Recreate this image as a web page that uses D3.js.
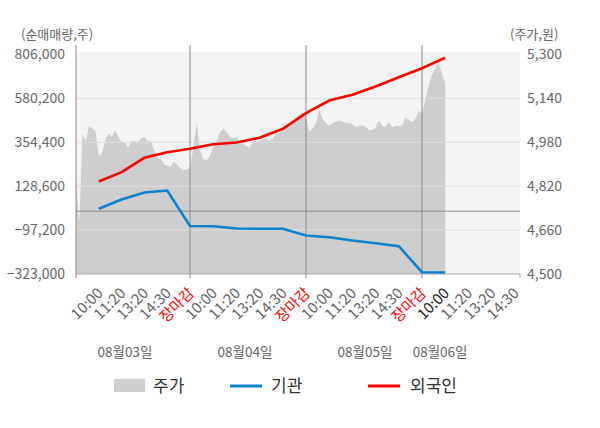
<!DOCTYPE html>
<html>
<head>
<meta charset="utf-8">
<script src="https://cdn.jsdelivr.net/npm/d3@7"></script>
<style>
  body { margin: 0; background: #fff; }
  text { font-family: "Noto Sans CJK KR", "Noto Sans", sans-serif; }
</style>
</head>
<body>
<div id="chart"></div>
<script>
// dates and intraday tick labels
const dates = ['08월03일', '08월04일', '08월05일', '08월06일'];
const timeLabels = ['10:00', '11:20', '13:20', '14:30', '장마감'];
const dateLabelSlots = [2.15, 7.37, 12.54, 15.78];

// price (won), 7 samples per slot, continuous over the days
const priceDay1 = [4845, 4685, 5010, 4985, 5040, 5030, 5020, 4930, 4940, 4990, 5010, 5000, 5025, 5000, 4980,
    4980, 4960, 4985, 4985, 4980, 4995, 5000, 4985, 4985, 4950, 4925, 4920, 4900, 4895, 4890, 4910, 4900, 4885, 4880, 4880];
const priceDay2 = [4885, 4960, 5050, 4950, 4920, 4915, 4930, 4965, 4985, 5015, 5030, 5020, 5000, 4995, 5000,
    4980, 4975, 4965, 4960, 4985, 4985, 4985, 4990, 4995, 4985, 4995, 5010, 5015, 5025, 5035, 5045, 5055, 5070, 5080, 5090];
const priceDay3 = [5070, 5020, 5030, 5050, 5100, 5065, 5050, 5040, 5050, 5055, 5060, 5055, 5050, 5050, 5045,
    5035, 5040, 5040, 5035, 5025, 5025, 5035, 5060, 5040, 5035, 5055, 5035, 5040, 5040, 5040, 5070, 5060, 5055, 5065, 5095];
const priceDay4 = [5085, 5135, 5185, 5225, 5250, 5270, 5230, 5195];

// net buying (shares) at each tick: 10:00, 11:20, 13:20, 14:30, close ...
const foreignNet = [152800, 200600, 274700, 303500, 321000, 344600, 353400, 377500, 423800, 504100,
    569400, 598700, 641400, 689200, 735500, 789000];
const instNet = [12400, 60200, 96200, 106500, -76100, -77100, -89000, -90500, -90500, -125000,
    -133700, -150700, -164600, -180000, -313700, -315300];

const leftTicks = [-323000, -97200, 128600, 354400, 580200, 806000];
const rightTicks = [4500, 4660, 4820, 4980, 5140, 5300];

const width = 600, height = 428;
const plotLeft = 76, plotRight = 520, plotTop = 52, plotBottom = 274;
const samplesPerSlot = 7;

const svg = d3.select("#chart").append("svg")
    .attr("width", width)
    .attr("height", height);

// slots: 5 per day, day 4 has 4
const x = d3.scaleLinear().domain([0, 5, 19]).range([plotLeft, 190, 514.8]);
const yL = d3.scaleLinear().domain([-323000, 806000]).range([plotBottom, 54.5]);
const yR = d3.scaleLinear().domain([4500, 5300]).range([plotBottom, 54.5]);

// background
svg.append("rect")
    .attr("x", plotLeft).attr("y", plotTop)
    .attr("width", plotRight - plotLeft).attr("height", plotBottom - plotTop)
    .attr("fill", "#f4f4f4");

// price area
const prices = priceDay1.concat(priceDay2, priceDay3, priceDay4);
const area = d3.area()
    .x((d, i) => x(i / samplesPerSlot))
    .y0(yR(4500))
    .y1(d => yR(d));
svg.append("path")
    .datum(prices)
    .attr("d", area)
    .attr("fill", "#cecece");

// grid lines
svg.selectAll(".grid")
    .data(leftTicks.slice(1, -1))
    .join("line")
    .attr("class", "grid")
    .attr("x1", plotLeft).attr("x2", plotRight)
    .attr("y1", d => yL(d)).attr("y2", d => yL(d))
    .attr("stroke", "#dedede");

// zero line
svg.append("line")
    .attr("x1", plotLeft).attr("x2", plotRight)
    .attr("y1", yL(0)).attr("y2", yL(0))
    .attr("stroke", "#8c8c8c");

// day separators and left axis
svg.selectAll(".daysep")
    .data([0, 5, 10, 15])
    .join("line")
    .attr("class", "daysep")
    .attr("x1", d => x(d)).attr("x2", d => x(d))
    .attr("y1", 45).attr("y2", plotBottom + 4)
    .attr("stroke", "#8c8c8c");

// bottom axis
svg.append("line")
    .attr("x1", plotLeft).attr("x2", plotRight)
    .attr("y1", plotBottom).attr("y2", plotBottom)
    .attr("stroke", "#aaa");
svg.append("line")
    .attr("x1", plotRight).attr("x2", plotRight)
    .attr("y1", plotBottom).attr("y2", plotBottom + 4)
    .attr("stroke", "#aaa");

// investor lines
const line = d3.line()
    .x((d, i) => x(i + 1))
    .y(d => yL(d));

svg.append("path")
    .datum(instNet)
    .attr("d", line)
    .attr("fill", "none")
    .attr("stroke", "#0a82cc")
    .attr("stroke-width", 2.6);

svg.append("path")
    .datum(foreignNet)
    .attr("d", line)
    .attr("fill", "none")
    .attr("stroke", "#ff0000")
    .attr("stroke-width", 2.6);

// y axes
const fmt = d3.format(",");
svg.selectAll(".ltick")
    .data(leftTicks)
    .join("text")
    .attr("class", "ltick")
    .attr("x", 65)
    .attr("y", d => yL(d))
    .attr("dy", "0.35em")
    .attr("text-anchor", "end")
    .attr("font-size", "14px")
    .attr("fill", "#666")
    .text(d => fmt(d));

svg.selectAll(".rtick")
    .data(rightTicks)
    .join("text")
    .attr("class", "rtick")
    .attr("x", 527)
    .attr("y", d => yR(d))
    .attr("dy", "0.35em")
    .attr("text-anchor", "start")
    .attr("font-size", "14px")
    .attr("fill", "#666")
    .text(d => fmt(d));

svg.append("text")
    .attr("x", 21).attr("y", 34)
    .attr("dy", "0.35em")
    .attr("font-size", "13px")
    .attr("fill", "#666")
    .text("(순매매량,주)");

svg.append("text")
    .attr("x", 510).attr("y", 34)
    .attr("dy", "0.35em")
    .attr("font-size", "13px")
    .attr("fill", "#666")
    .text("(주가,원)");

// x tick labels
const xLabels = [];
dates.forEach((date, d) => {
    const n = d < 3 ? 5 : 4;
    for (let k = 0; k < n; k++) {
        xLabels.push({
            slot: d * 5 + k + 1,
            label: timeLabels[k],
            color: timeLabels[k] === '장마감' ? "#ff0000" : (d === 3 && k === 0 ? "#222" : "#666")
        });
    }
});

svg.selectAll(".xtick")
    .data(xLabels)
    .join("text")
    .attr("class", "xtick")
    .attr("transform", d => `translate(${x(d.slot) + 5}, 294) rotate(-45)`)
    .attr("text-anchor", "end")
    .attr("font-size", "15px")
    .attr("fill", d => d.color)
    .text(d => d.label);

svg.selectAll(".date")
    .data(dates)
    .join("text")
    .attr("class", "date")
    .attr("x", (d, i) => x(dateLabelSlots[i]))
    .attr("y", 352)
    .attr("dy", "0.35em")
    .attr("text-anchor", "middle")
    .attr("font-size", "13.5px")
    .attr("fill", "#666")
    .text(d => d);

// legend
const legend = svg.append("g");
legend.append("rect")
    .attr("x", 114).attr("y", 379)
    .attr("width", 31).attr("height", 13)
    .attr("fill", "#cecece");
legend.append("text")
    .attr("x", 153).attr("y", 386).attr("dy", "0.35em")
    .attr("font-size", "17px").attr("fill", "#333")
    .text("주가");
legend.append("line")
    .attr("x1", 230).attr("x2", 262).attr("y1", 386).attr("y2", 386)
    .attr("stroke", "#0a82cc").attr("stroke-width", 3);
legend.append("text")
    .attr("x", 271).attr("y", 386).attr("dy", "0.35em")
    .attr("font-size", "17px").attr("fill", "#333")
    .text("기관");
legend.append("line")
    .attr("x1", 368).attr("x2", 400).attr("y1", 386).attr("y2", 386)
    .attr("stroke", "#ff0000").attr("stroke-width", 3);
legend.append("text")
    .attr("x", 410).attr("y", 386).attr("dy", "0.35em")
    .attr("font-size", "17px").attr("fill", "#333")
    .text("외국인");
</script>
</body>
</html>
